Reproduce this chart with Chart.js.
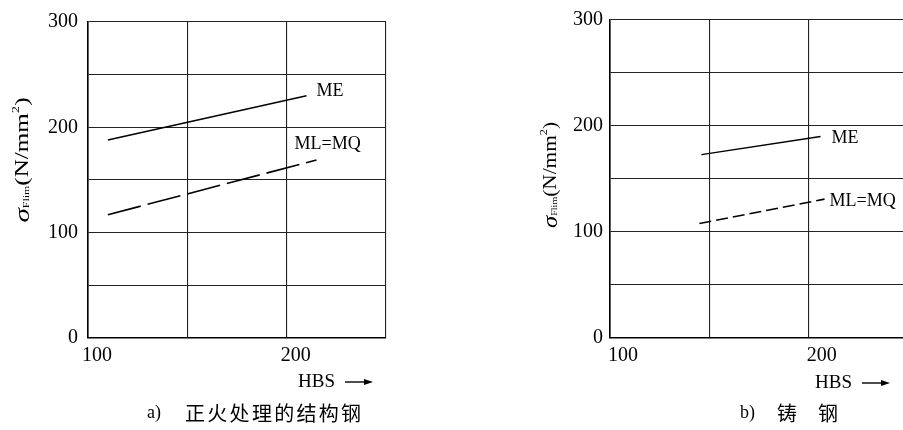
<!DOCTYPE html>
<html>
<head>
<meta charset="utf-8">
<script src="https://cdn.jsdelivr.net/npm/chart.js@4.4.1/dist/chart.umd.min.js"></script>
<style>
  html, body { margin: 0; padding: 0; background: #fff; width: 903px; height: 430px; overflow: hidden; }
  .panel { position: absolute; top: 0; }
</style>
</head>
<body>
<div class="panel" style="left:0px"><canvas id="chartA" width="450" height="430"></canvas></div>
<div class="panel" style="left:452px"><canvas id="chartB" width="470" height="430"></canvas></div>
<script>
// axis ticks (HBS on x, sigma_Flim on y)
var xTickLabels = [100, 200];
var yTickLabels = [0, 100, 200, 300];

// a) normalized structural steel
var hbsMeA = [110, 210];
var meA = [188, 230];
var hbsMlA = [110, 215];
var mlA = [117, 169];

// b) cast steel
var hbsMeB = [146, 206];
var meB = [173, 190];
var hbsMlB = [145, 208];
var mlB = [108, 131];

var serif = "'Liberation Serif', 'DejaVu Serif', serif";
var cjk = "'Noto Sans CJK SC', 'Noto Sans', sans-serif";

function pts(xs, ys) {
    return xs.map(function(x, i) { return {x: x, y: ys[i]}; });
}

function makeDecor(cfg) {
    return {
        id: 'decor',
        afterDraw: function(chart) {
            var ctx = chart.ctx;
            var xs = chart.scales.x, ys = chart.scales.y;
            ctx.save();
            ctx.fillStyle = '#000';
            ctx.strokeStyle = '#000';

            // line labels
            ctx.font = '18px ' + serif;
            ctx.textAlign = 'left';
            ctx.textBaseline = 'middle';
            cfg.lineLabels.forEach(function(l) {
                ctx.fillText(l.text, xs.getPixelForValue(l.x), ys.getPixelForValue(l.y));
            });

            // y title: sigma_Flim (N/mm^2), rotated
            ctx.save();
            ctx.translate(cfg.yTitle.x, cfg.yTitle.y);
            ctx.rotate(-Math.PI / 2);
            var parts = [
                {t: '\u03c3', f: 'italic 22px ' + serif, dy: 0},
                {t: 'Flim', f: '9px ' + serif, dy: 4},
                {t: '(N/mm', f: '19px ' + serif, dy: 0},
                {t: '2', f: '11px ' + serif, dy: -7},
                {t: ')', f: '19px ' + serif, dy: 0}
            ];
            var total = 0;
            parts.forEach(function(p) { ctx.font = p.f; p.w = ctx.measureText(p.t).width; total += p.w; });
            ctx.scale(cfg.yTitle.len / total, 1);
            var cx = -total / 2;
            ctx.textBaseline = 'middle';
            parts.forEach(function(p) {
                ctx.font = p.f;
                ctx.fillText(p.t, cx, p.dy);
                cx += p.w;
            });
            ctx.restore();

            // HBS with arrow
            ctx.font = '19px ' + serif;
            ctx.textBaseline = 'middle';
            ctx.fillText('HBS', cfg.hbs.x, cfg.hbs.y);
            ctx.lineWidth = 1.4;
            ctx.beginPath();
            ctx.moveTo(cfg.hbs.a1, cfg.hbs.y);
            ctx.lineTo(cfg.hbs.a2 - 6, cfg.hbs.y);
            ctx.stroke();
            ctx.beginPath();
            ctx.moveTo(cfg.hbs.a2, cfg.hbs.y);
            ctx.lineTo(cfg.hbs.a2 - 9, cfg.hbs.y - 3);
            ctx.lineTo(cfg.hbs.a2 - 9, cfg.hbs.y + 3);
            ctx.closePath();
            ctx.fill();

            // caption
            ctx.font = '18px ' + serif;
            ctx.fillText(cfg.caption.tag, cfg.caption.x, cfg.caption.y);
            ctx.font = '20px ' + cjk;
            cfg.caption.chars.forEach(function(c, i) {
                ctx.fillText(c, cfg.caption.cx + i * cfg.caption.pitch, cfg.caption.y);
            });
            ctx.restore();
        }
    };
}

function buildChart(id, me, ml, dash, top, yPad, yWidth, rightPad, xOffset, decor) {
    var tickFont = {family: serif, size: 20};
    return new Chart(document.getElementById(id), {
        type: 'scatter',
        data: {
            datasets: [{
                label: 'ME',
                data: me,
                showLine: true,
                borderColor: '#000',
                borderWidth: 1.5,
                pointRadius: 0
            }, {
                label: 'ML=MQ',
                data: ml,
                showLine: true,
                borderColor: '#000',
                borderWidth: 1.6,
                borderDash: dash,
                pointRadius: 0
            }]
        },
        options: {
            responsive: false,
            animation: false,
            layout: {padding: {top: top, right: rightPad, left: 0, bottom: 0}},
            plugins: {legend: {display: false}, tooltip: {enabled: false}},
            scales: {
                x: {
                    type: 'linear', min: 100, max: 250,
                    grid: {color: '#222', lineWidth: 1.1, drawTicks: false},
                    border: {color: '#000', width: 1.6},
                    ticks: {
                        stepSize: 50, autoSkip: false, maxRotation: 0,
                        font: tickFont, color: '#000', padding: 6, labelOffset: xOffset,
                        callback: function(v) { return xTickLabels.indexOf(v) >= 0 ? String(v) : ''; }
                    },
                    afterFit: function(s) { s.height = 92; }
                },
                y: {
                    min: 0, max: 300,
                    grid: {color: '#222', lineWidth: 1.1, drawTicks: false},
                    border: {color: '#000', width: 1.6},
                    ticks: {
                        stepSize: 50, autoSkip: false,
                        font: tickFont, color: '#000', padding: yPad,
                        callback: function(v) { return yTickLabels.indexOf(v) >= 0 ? String(v) : ''; }
                    },
                    afterFit: function(s) { s.width = yWidth; }
                }
            }
        },
        plugins: [makeDecor(decor)]
    });
}

var chartA = buildChart('chartA', pts(hbsMeA, meA), pts(hbsMlA, mlA), [34, 7], 18, 10, 88, 64, 9, {
    lineLabels: [{text: 'ME', x: 215, y: 234}, {text: 'ML=MQ', x: 204, y: 184}],
    yTitle: {x: 23, y: 160, len: 125},
    hbs: {x: 298, y: 382, a1: 345, a2: 373},
    caption: {tag: 'a)', x: 147, y: 413, cx: 185, pitch: 22.3, chars: ['正', '火', '处', '理', '的', '结', '构', '钢']}
});

var chartB = buildChart('chartB', pts(hbsMeB, meB), pts(hbsMlB, mlB), [12, 5], 20, 7, 158, 14, 13, {
    lineLabels: [{text: 'ME', x: 211.5, y: 188}, {text: 'ML=MQ', x: 210.5, y: 129}],
    yTitle: {x: 99, y: 175, len: 106},
    hbs: {x: 363, y: 383, a1: 410, a2: 438},
    caption: {tag: 'b)', x: 288, y: 413, cx: 325, pitch: 41, chars: ['铸', '钢']}
});
</script>
</body>
</html>
